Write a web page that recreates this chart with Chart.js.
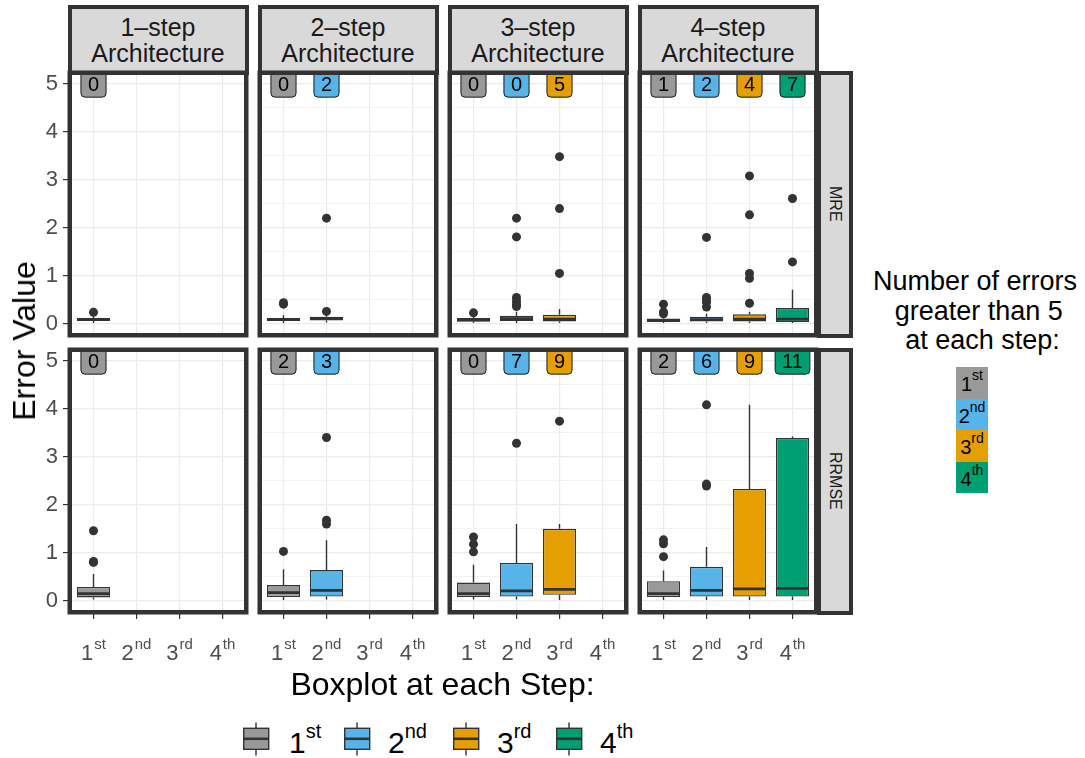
<!DOCTYPE html>
<html>
<head>
<meta charset="utf-8">
<script src="https://cdn.jsdelivr.net/npm/chart.js@4.4.1/dist/chart.umd.min.js"></script>
<style>
  body { margin: 0; background: #fff; font-family: "Liberation Sans", Arial, sans-serif; }
  #wrap { position: relative; width: 1085px; height: 758px; overflow: hidden; background: #fff; }
  canvas { position: absolute; }
  .strip { position: absolute; box-sizing: border-box; background: #D9D9D9; border: 4.5px solid #333;
           color: #1A1A1A; display: flex; align-items: center; justify-content: center; text-align: center; }
  .strip.top { font-size: 25px; line-height: 26px; }
  .strip.side { font-size: 16px; }
  .strip.side span { writing-mode: vertical-rl; }
  .txt { position: absolute; white-space: pre; color: #000; }
  .sup { position: relative; }
  .block { position: absolute; width: 32px; height: 31.5px; font-size: 20px; line-height: 31.5px; text-align: center; color: #000; }
</style>
</head>
<body>
<div id="wrap"></div>
<script>
/* ---------- data ---------- */
const steps = ["1st", "2nd", "3rd", "4th"];
const stepNum = ["1", "2", "3", "4"];
const stepSup = ["st", "nd", "rd", "th"];
const architectures = ["1–step", "2–step", "3–step", "4–step"];
const metrics = ["MRE", "RRMSE"];
const yTicks = [0, 0.5, 1, 1.5, 2, 2.5, 3, 3.5, 4, 4.5, 5];
const yMin = -0.19;
const yMax = 5.18;
const countY = 5;

// per step: [lower whisker, Q1, median, Q3, upper whisker]
const mreBoxes1 = [[0.02, 0.06, 0.09, 0.12, 0.19]];
const mreBoxes2 = [[0.02, 0.06, 0.09, 0.12, 0.18], [0.03, 0.07, 0.11, 0.15, 0.2]];
const mreBoxes3 = [[0.02, 0.05, 0.08, 0.12, 0.18], [0.02, 0.06, 0.11, 0.17, 0.25], [0.02, 0.05, 0.1, 0.19, 0.31]];
const mreBoxes4 = [[0.02, 0.05, 0.07, 0.11, 0.17], [0.02, 0.05, 0.09, 0.15, 0.21], [0.02, 0.05, 0.1, 0.2, 0.25], [0.02, 0.04, 0.1, 0.33, 0.71]];
const mreOutliers1 = [[0.24]];
const mreOutliers2 = [[0.41, 0.44], [0.26, 2.2]];
const mreOutliers3 = [[0.23], [0.36, 0.41, 0.47, 0.55, 1.81, 2.2], [1.05, 2.4, 3.48]];
const mreOutliers4 = [[0.21, 0.25, 0.41], [0.35, 0.45, 0.5, 0.55, 1.8], [0.43, 0.95, 1.05, 2.27, 3.08], [1.29, 2.61]];

const rrmseBoxes1 = [[0.03, 0.07, 0.15, 0.29, 0.56]];
const rrmseBoxes2 = [[0.02, 0.08, 0.17, 0.33, 0.66], [0.03, 0.09, 0.22, 0.64, 1.26]];
const rrmseBoxes3 = [[0.03, 0.08, 0.15, 0.38, 0.75], [0.03, 0.09, 0.21, 0.79, 1.6], [0.02, 0.125, 0.24, 1.5, 1.6]];
const rrmseBoxes4 = [[0.02, 0.08, 0.15, 0.41, 0.63], [0.02, 0.09, 0.22, 0.71, 1.12], [0.02, 0.09, 0.25, 2.33, 4.08], [0.02, 0.09, 0.26, 3.39, 3.42]];
const rrmseOutliers1 = [[0.8, 0.82, 1.46]];
const rrmseOutliers2 = [[1.03], [1.6, 1.68, 3.4]];
const rrmseOutliers3 = [[1.02, 1.18, 1.33], [3.28], [3.74]];
const rrmseOutliers4 = [[0.92, 1.19, 1.27], [2.39, 2.43, 4.08], [], []];

const mreOver5 = [[0], [0, 2], [0, 0, 5], [1, 2, 4, 7]];
const rrmseOver5 = [[0], [2, 3], [0, 7, 9], [2, 6, 9, 11]];

/* ---------- style / layout ---------- */
const stepColors = ["#999999", "#56B4E9", "#E69F00", "#009E73"];
const FONT = '"Liberation Sans", Arial, sans-serif';
const innerLeft = [72, 262, 452, 642];
const innerTop = [75, 352];
const PW = 172, PH = 258;
const AXW = 50, AXH = 70, PADT = 10, PADR = 10;

Chart.defaults.font.family = FONT;

const boxSets = [[mreBoxes1, mreBoxes2, mreBoxes3, mreBoxes4], [rrmseBoxes1, rrmseBoxes2, rrmseBoxes3, rrmseBoxes4]];
const outSets = [[mreOutliers1, mreOutliers2, mreOutliers3, mreOutliers4], [rrmseOutliers1, rrmseOutliers2, rrmseOutliers3, rrmseOutliers4]];
const countSets = [mreOver5, rrmseOver5];

const wrap = document.getElementById("wrap");
const el = (tag, cls, css, html) => {
  const e = document.createElement(tag);
  if (cls) e.className = cls;
  Object.assign(e.style, css);
  if (html !== undefined) e.innerHTML = html;
  wrap.appendChild(e);
  return e;
};

const clipTo = (ctx, a) => { ctx.beginPath(); ctx.rect(a.left, a.top, a.width, a.height); ctx.clip(); };

/* ---------- boxplot pieces drawn through the chart scales ---------- */
const boxParts = {
  id: "boxParts",
  beforeDatasetsDraw(chart, args, opts) {
    const { ctx, chartArea: a, scales: { x, y } } = chart;
    ctx.save();
    clipTo(ctx, a);
    ctx.strokeStyle = "#333";
    ctx.lineWidth = 1.4;
    opts.boxes.forEach((b, i) => {
      const px = x.getPixelForValue(i);
      ctx.beginPath();
      ctx.moveTo(px, y.getPixelForValue(b[0]));
      ctx.lineTo(px, y.getPixelForValue(b[1]));
      ctx.moveTo(px, y.getPixelForValue(b[3]));
      ctx.lineTo(px, y.getPixelForValue(b[4]));
      ctx.stroke();
    });
    ctx.restore();
  },
  afterDatasetDraw(chart, args, opts) {
    if (args.index !== 0) return;
    const { ctx, chartArea: a, scales: { y } } = chart;
    ctx.save();
    clipTo(ctx, a);
    ctx.strokeStyle = "#333";
    ctx.lineWidth = 2.8;
    args.meta.data.forEach((bar, i) => {
      const py = y.getPixelForValue(opts.boxes[i][2]);
      ctx.beginPath();
      ctx.moveTo(bar.x - bar.width / 2, py);
      ctx.lineTo(bar.x + bar.width / 2, py);
      ctx.stroke();
    });
    ctx.restore();
  },
  afterDatasetsDraw(chart, args, opts) {
    // count of errors above 5, as labels at y = 5
    const { ctx, chartArea: a, scales: { x, y } } = chart;
    ctx.save();
    clipTo(ctx, a);
    ctx.font = "20px " + FONT;
    ctx.textAlign = "center";
    ctx.textBaseline = "middle";
    opts.counts.forEach((n, i) => {
      const t = String(n);
      const w = ctx.measureText(t).width + 14, h = 27;
      const cx = x.getPixelForValue(i), cy = y.getPixelForValue(countY);
      ctx.beginPath();
      ctx.roundRect(cx - w / 2, cy - h / 2, w, h, 4);
      ctx.fillStyle = stepColors[i];
      ctx.fill();
      ctx.lineWidth = 1;
      ctx.strokeStyle = "#1A1A1A";
      ctx.stroke();
      ctx.fillStyle = "#000";
      ctx.fillText(t, cx, cy + 1.5);
    });
    ctx.restore();
  },
  afterDraw(chart, args, opts) {
    const { ctx, chartArea: a, scales: { x } } = chart;
    ctx.save();
    ctx.strokeStyle = "#333";
    ctx.lineWidth = 4.5;
    ctx.strokeRect(a.left - 2.25, a.top - 2.25, a.width + 4.5, a.height + 4.5);
    if (opts.xLabels) {
      ctx.fillStyle = "#4D4D4D";
      ctx.textBaseline = "alphabetic";
      ctx.textAlign = "left";
      steps.forEach((s, i) => {
        const px = x.getPixelForValue(i), base = a.bottom + 50;
        ctx.font = "22px " + FONT;
        const w1 = ctx.measureText(stepNum[i]).width;
        ctx.font = "15px " + FONT;
        const w2 = ctx.measureText(stepSup[i]).width;
        const left = px - (w1 + w2 + 1) / 2;
        ctx.font = "22px " + FONT;
        ctx.fillText(stepNum[i], left, base);
        ctx.font = "15px " + FONT;
        ctx.fillText(stepSup[i], left + w1 + 1, base - 11);
      });
    }
    ctx.restore();
  }
};

const isMajor = c => c.tick && Number.isInteger(c.tick.value);

const buildPanel = (row, col) => {
  const boxes = boxSets[row][col];
  const outliers = [];
  outSets[row][col].forEach((vals, i) => vals.forEach(v => outliers.push({ x: steps[i], y: v })));

  const canvas = document.createElement("canvas");
  canvas.width = AXW + PW + PADR;
  canvas.height = PADT + PH + AXH;
  canvas.style.left = (innerLeft[col] - AXW) + "px";
  canvas.style.top = (innerTop[row] - PADT) + "px";
  wrap.appendChild(canvas);

  new Chart(canvas, {
    type: "bar",
    data: {
      labels: steps,
      datasets: [
        {
          type: "bar",
          data: boxes.map(b => [b[1], b[3]]),
          backgroundColor: stepColors,
          borderColor: "#333",
          borderWidth: 1.4,
          borderSkipped: false,
          barPercentage: 0.77,
          categoryPercentage: 1,
          order: 2
        },
        {
          type: "scatter",
          data: outliers,
          pointRadius: 4.5,
          pointBackgroundColor: "#333",
          pointBorderWidth: 0,
          order: 1
        }
      ]
    },
    options: {
      responsive: false,
      animation: false,
      events: [],
      layout: { padding: { left: 0, top: PADT, right: PADR, bottom: 0 } },
      plugins: {
        legend: { display: false },
        tooltip: { enabled: false },
        boxParts: { boxes, counts: countSets[row][col], xLabels: row === 1 }
      },
      scales: {
        x: {
          type: "category",
          offset: true,
          border: { display: false },
          grid: { offset: false, color: "#EBEBEB", lineWidth: 1.2, drawTicks: row === 1, tickLength: 9, tickColor: "#333", tickWidth: 1.2 },
          ticks: { display: false },
          afterFit: s => { s.height = AXH; s.paddingLeft = 0; s.paddingRight = 0; }
        },
        y: {
          type: "linear",
          min: yMin,
          max: yMax,
          afterBuildTicks: s => { s.ticks = yTicks.map(v => ({ value: v })); },
          border: { display: false },
          grid: {
            color: "#EBEBEB",
            lineWidth: c => (isMajor(c) ? 1.2 : 0.6),
            drawTicks: col === 0,
            tickLength: 9,
            tickColor: c => (isMajor(c) ? "#333" : "rgba(0,0,0,0)"),
            tickWidth: 1.2
          },
          ticks: {
            display: col === 0,
            padding: 5,
            color: "#4D4D4D",
            font: { size: 22 },
            callback: v => (Number.isInteger(v) ? v : "")
          },
          afterFit: s => { s.width = AXW; s.paddingTop = 0; s.paddingBottom = 0; }
        }
      }
    },
    plugins: [boxParts]
  });
};

/* ---------- strips ---------- */
architectures.forEach((name, c) => {
  el("div", "strip top", {
    left: (innerLeft[c] - 4.5) + "px", top: "5px", width: (PW + 9) + "px", height: "70px"
  }, name + "<br>Architecture");
});
metrics.forEach((m, r) => {
  el("div", "strip side", {
    left: (innerLeft[3] + PW + 2.5) + "px", top: (innerTop[r] - 4.5) + "px",
    width: "36px", height: (PH + 9) + "px"
  }, "<span>" + m + "</span>");
});

/* ---------- panels ---------- */
for (let r = 0; r < metrics.length; r++) {
  for (let c = 0; c < architectures.length; c++) buildPanel(r, c);
}

/* ---------- titles ---------- */
el("div", "txt", {
  left: "24px", top: "341px", fontSize: "32px", lineHeight: "32px",
  transform: "translate(-50%,-50%) rotate(-90deg)"
}, "Error Value");
el("div", "txt", {
  left: "442.5px", top: "668px", fontSize: "32px", lineHeight: "32px", transform: "translateX(-50%)"
}, "Boxplot at each Step:");

/* ---------- bottom legend ---------- */
const keyLeft = [243, 344, 453, 556];
const keyLabelLeft = [289, 388, 497, 600];
steps.forEach((s, i) => {
  el("div", "", { position: "absolute", left: keyLeft[i] + "px", top: "721px", width: "27px", height: "36px" },
    `<svg width="27" height="36" viewBox="0 0 27 36">
       <line x1="13" y1="1.5" x2="13" y2="34.5" stroke="#333" stroke-width="1.4"/>
       <rect x="0.7" y="7.3" width="25" height="21" fill="${stepColors[i]}" stroke="#333" stroke-width="1.4"/>
       <line x1="0.7" y1="17.8" x2="25.7" y2="17.8" stroke="#333" stroke-width="2.6"/>
     </svg>`);
  el("div", "txt", { left: keyLabelLeft[i] + "px", top: "727.6px", fontSize: "30px", lineHeight: "30px" },
    `${stepNum[i]}<span class="sup" style="font-size:20px;top:-15px">${stepSup[i]}</span>`);
});

/* ---------- right legend ---------- */
el("div", "txt", {
  left: "870px", top: "267px", width: "210px", textAlign: "center", fontSize: "27px", lineHeight: "29.5px"
}, "Number of errors\n greater than 5\n  at each step:");
steps.forEach((s, i) => {
  el("div", "block", { left: "956px", top: (367 + i * 31.5) + "px", background: stepColors[i] },
    `<span style="position:relative;top:2px">${stepNum[i]}<span class="sup" style="font-size:14px;top:-11px">${stepSup[i]}</span></span>`);
});
</script>
</body>
</html>
